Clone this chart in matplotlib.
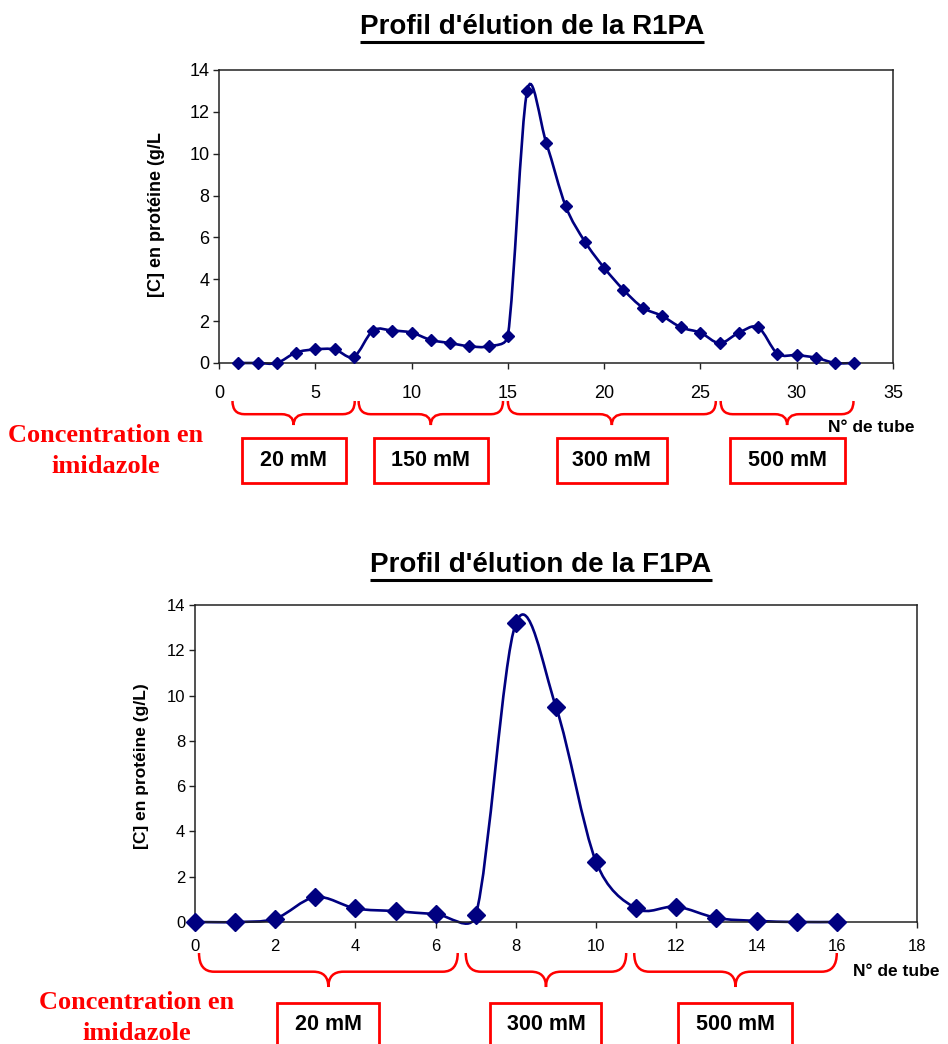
import matplotlib
matplotlib.use("Agg")
import matplotlib.pyplot as plt
from matplotlib.path import Path
from matplotlib.patches import PathPatch, Rectangle
import numpy as np

plt.rcParams["font.family"] = ["Liberation Sans", "DejaVu Sans"]

# ---- data ----
r1pa_tubes = list(range(1, 34))
r1pa_conc = [0, 0, 0, 0.5, 0.65, 0.65, 0.3, 1.55, 1.55, 1.45, 1.1, 0.95, 0.8,
             0.8, 1.3, 13.0, 10.5, 7.5, 5.8, 4.55, 3.5, 2.65, 2.25, 1.7, 1.45,
             0.95, 1.45, 1.7, 0.45, 0.38, 0.25, 0, 0]

f1pa_tubes = list(range(0, 17))
f1pa_conc = [0, 0, 0.15, 1.1, 0.6, 0.48, 0.35, 0.3, 13.2, 9.5, 2.65, 0.6, 0.68,
             0.18, 0.05, 0, 0]

# imidazole steps: (first tube, last tube) covered by each brace + label
r1pa_steps = [(0.7, 7.05), (7.25, 14.75), (15.0, 25.8), (26.05, 32.95)]
r1pa_labels = ["20 mM", "150 mM", "300 mM", "500 mM"]
f1pa_steps = [(0.1, 6.55), (6.75, 10.75), (10.95, 16.0)]
f1pa_labels = ["20 mM", "300 mM", "500 mM"]

NAVY = "#000080"
RED = "#FF0000"
W, H = 948, 1044


def excel_smooth(ax, xs, ys, **kw):
    # Excel-like smoothed line: Catmull-Rom arms (1/6), each arm capped at
    # half the pixel length of its segment
    pts = np.column_stack([np.asarray(xs, float), np.asarray(ys, float)])
    px = ax.transData.transform(pts)
    sc = ax.transData.transform((1, 1)) - ax.transData.transform((0, 0))
    n = len(pts)

    def arm(i_prev, i_next, seg_len):
        a = (pts[i_next] - pts[i_prev]) / 6.0
        alen = np.hypot(*(a * sc))
        if alen > seg_len / 2 and alen > 0:
            a = a * (seg_len / 2) / alen
        return a

    verts = [tuple(pts[0])]
    codes = [Path.MOVETO]
    for i in range(n - 1):
        i0 = max(i - 1, 0); i3 = min(i + 2, n - 1)
        seg = np.hypot(*(px[i + 1] - px[i]))
        c1 = pts[i] + arm(i0, i + 1, seg)
        c2 = pts[i + 1] - arm(i, i3, seg)
        verts += [tuple(c1), tuple(c2), tuple(pts[i + 1])]
        codes += [Path.CURVE4] * 3
    ax.add_patch(PathPatch(Path(verts, codes), fill=False, **kw))


def brace(ov, x0, x1, ytop, depth, r):
    xm = (x0 + x1) / 2
    y1 = ytop + depth * 0.55
    y2 = ytop + depth
    verts = [(x0, ytop), (x0, y1), (x0 + r, y1), (xm - r, y1), (xm, y1), (xm, y2),
             (xm, y1), (xm + r, y1), (x1 - r, y1), (x1, y1), (x1, ytop)]
    codes = [Path.MOVETO, Path.CURVE3, Path.CURVE3, Path.LINETO, Path.CURVE3,
             Path.CURVE3, Path.CURVE3, Path.CURVE3, Path.LINETO, Path.CURVE3,
             Path.CURVE3]
    ov.add_patch(PathPatch(Path(verts, codes), fill=False, ec=RED, lw=1.8))
    return xm


def setup(ax, xmax, xstep, tick_fs, xpad):
    ax.set_ylim(0, 14)
    ax.set_yticks(range(0, 15, 2))
    ax.set_xlim(0, xmax)
    ax.set_xticks(range(0, xmax + 1, xstep))
    ax.tick_params(axis="both", direction="out", length=4, width=1,
                   labelsize=tick_fs, color="#222222")
    ax.tick_params(axis="x", pad=xpad)
    ax.tick_params(axis="y", pad=3)
    for s in ax.spines.values():
        s.set_color("#222222")
        s.set_linewidth(1.1)


fig = plt.figure(figsize=(W / 100, H / 100), dpi=100)
ax1 = fig.add_axes([219 / W, 1 - 363 / H, 674 / W, 293 / H])
ax2 = fig.add_axes([195 / W, 1 - 922 / H, 722 / W, 317 / H])
ov = fig.add_axes([0, 0, 1, 1], zorder=-1)
ov.set_xlim(0, W); ov.set_ylim(H, 0); ov.axis("off")

setup(ax1, 35, 5, 13, 12)
setup(ax2, 18, 2, 12, 8)

excel_smooth(ax1, r1pa_tubes, r1pa_conc, ec=NAVY, lw=1.9, clip_on=False)
ax1.plot(r1pa_tubes, r1pa_conc, ls="none", marker="D", ms=6, color=NAVY,
         clip_on=False, zorder=3)
excel_smooth(ax2, f1pa_tubes, f1pa_conc, ec=NAVY, lw=1.9, clip_on=False)
ax2.plot(f1pa_tubes, f1pa_conc, ls="none", marker="D", ms=9.5, color=NAVY,
         clip_on=False, zorder=3)

# titles (underlined)
renderer = fig.canvas.get_renderer()
for txt, cx, cy in [("Profil d'élution de la R1PA", 532, 27),
                    ("Profil d'élution de la F1PA", 541, 565)]:
    t = ov.text(cx, cy, txt, ha="center", va="center", fontsize=20,
                fontweight="bold")
    bb = t.get_window_extent(renderer)
    ov.plot([bb.x0, bb.x1], [H - bb.y0 + 2, H - bb.y0 + 2], color="black",
            lw=2.2, solid_capstyle="butt")

ov.text(157, 215, "[C] en protéine (g/L", rotation=90, ha="center",
        va="center", fontsize=13, fontweight="bold")
ov.text(142, 766, "[C] en protéine (g/L)", rotation=90, ha="center",
        va="center", fontsize=12.5, fontweight="bold")

ov.text(828, 427, "N° de tube", ha="left", va="center", fontsize=12.5,
        fontweight="bold")
ov.text(853, 972, "N° de tube", ha="left", va="center", fontsize=12.5,
        fontweight="bold")

ov.text(106, 451, "Concentration en\nimidazole", ha="center", va="center",
        fontsize=19, fontweight="bold", color=RED, family="Liberation Serif",
        linespacing=1.4)
ov.text(137, 1018, "Concentration en\nimidazole", ha="center", va="center",
        fontsize=19, fontweight="bold", color=RED, family="Liberation Serif",
        linespacing=1.4)


def to_px(ax, x):
    return ax.transData.transform((x, 0))[0]


# braces + concentration boxes
top_w = [104, 114, 110, 115]
for (a, b), lab, bw in zip(r1pa_steps, r1pa_labels, top_w):
    xm = brace(ov, to_px(ax1, a), to_px(ax1, b), 401, 24, 12)
    ov.add_patch(Rectangle((xm - bw / 2, 438), bw, 45, fc="white", ec=RED, lw=2))
    ov.text(xm, 461, lab, ha="center", va="center", fontsize=15.5,
            fontweight="bold")

bot_w = [102, 111, 114]
for (a, b), lab, bw in zip(f1pa_steps, f1pa_labels, bot_w):
    xm = brace(ov, to_px(ax2, a), to_px(ax2, b), 953, 34, 15)
    ov.add_patch(Rectangle((xm - bw / 2, 1003), bw, 60, fc="white", ec=RED, lw=2))
    ov.text(xm, 1025, lab, ha="center", va="center", fontsize=15.5,
            fontweight="bold")

fig.savefig("out.png", dpi=100)
